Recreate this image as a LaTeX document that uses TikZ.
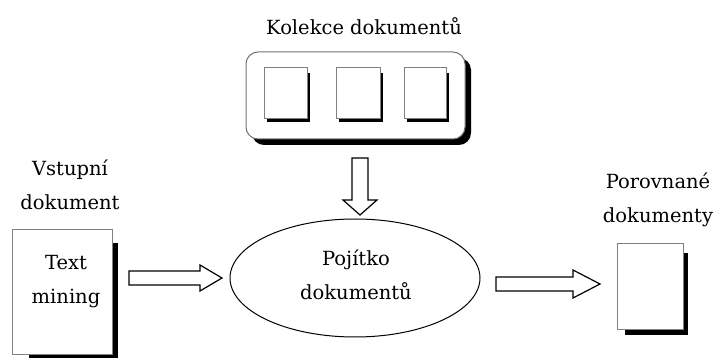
\documentclass[tikz,border=0pt]{standalone}
\usepackage{fontspec}
\setmainfont{DejaVu Serif}
\usetikzlibrary{shapes.geometric}
\tikzset{
  lbl/.style={font=\fontsize{19.5}{34}\selectfont, align=center, inner sep=0pt, text=black},
  paper/.style={draw=black!50, line width=1pt, fill=white},
  shade/.style={fill=black},
  blockarrow/.style={draw=black, line width=1.2pt, fill=white, line join=miter},
}
\begin{document}
\begin{tikzpicture}[x=1pt,y=-1pt]
\useasboundingbox (0,0) rectangle (716,358);
% collection
\fill[shade, rounded corners=12pt] (252,58) rectangle (471,145);
\node[draw=black!55, line width=1pt, fill=white, rounded corners=12pt, minimum width=219pt, minimum height=87pt, inner sep=0pt] (coll) at (355.5,95.5) {};
\node[lbl] (tcoll) at (364,26) {Kolekce dokumentů};
% squares
\fill[shade] (267,73) rectangle (310,122);
\node[paper, minimum width=43pt, minimum height=51pt, inner sep=0pt] (s1) at (285.5,93.5) {};
\fill[shade] (339,73) rectangle (383,122);
\node[paper, minimum width=44pt, minimum height=51pt, inner sep=0pt] (s2) at (358,93.5) {};
\fill[shade] (407,73) rectangle (449,122);
\node[paper, minimum width=42pt, minimum height=51pt, inner sep=0pt] (s3) at (425,93.5) {};
% left document
\fill[shade] (29,243) rectangle (118,362);
\node[paper, minimum width=100pt, minimum height=125pt, inner sep=0pt] (ldoc) at (62,292.5) {};
\node[lbl] (tin) at (66,282) {Text\\mining};
\node[lbl] (tvst) at (70,185) {Vstupní\\dokument};
% right document
\fill[shade] (625,253) rectangle (688,335);
\node[paper, minimum width=66pt, minimum height=86pt, inner sep=0pt] (rdoc) at (650,287) {};
\node[lbl] (tpor) at (658,200) {Porovnané\\dokumenty};
% ellipse
\node[ellipse, draw=black, line width=1pt, minimum width=250pt, minimum height=118pt, inner sep=0pt] (ell) at (355,278) {};
\node[lbl] (tell) at (356,275) {Pojítko\\dokumentů};
% block arrows
\draw[blockarrow] (129,271) -- (200,271) -- (200,265) -- (222,278) -- (200,291) -- (200,285) -- (129,285) -- cycle;
\draw[blockarrow] (496,277) -- (573,277) -- (573,270) -- (600,284) -- (573,298) -- (573,291) -- (496,291) -- cycle;
\draw[blockarrow] (352,158) -- (368,158) -- (368,200) -- (377,200) -- (360,215) -- (343,200) -- (352,200) -- cycle;
\end{tikzpicture}
\end{document}
